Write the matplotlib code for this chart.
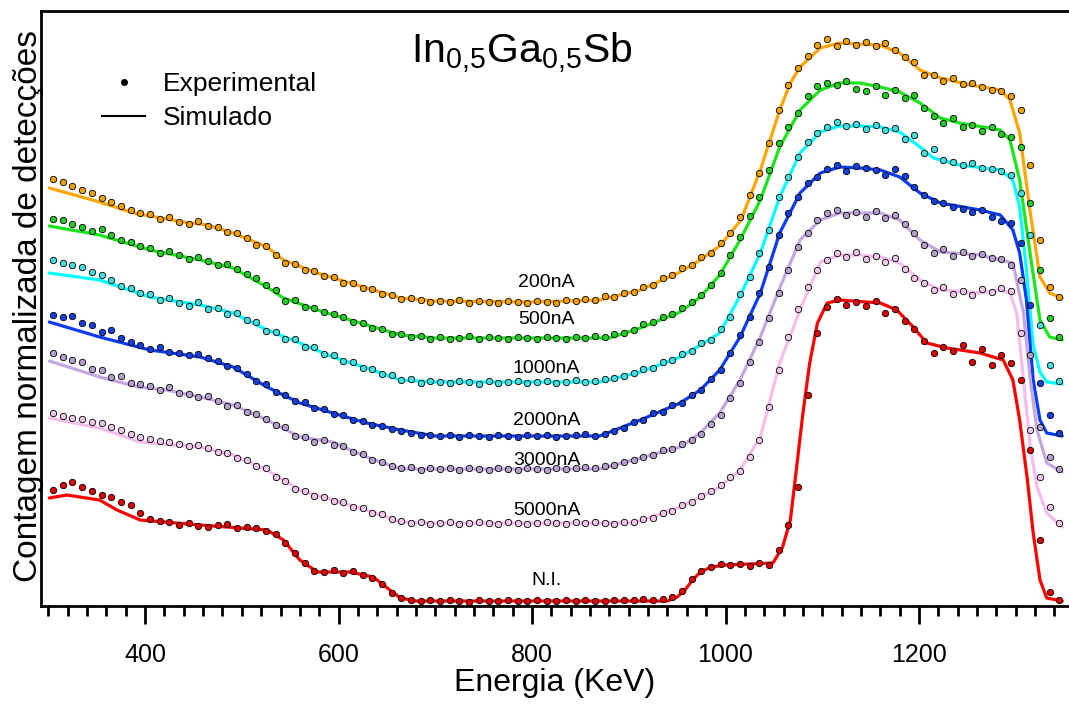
"""
RBS spectra of In0.5Ga0.5Sb at several fluences: experimental points and simulated curves.

Writes: out.png
"""

import numpy as np
import matplotlib
matplotlib.use("Agg")
import matplotlib.pyplot as plt
from matplotlib.lines import Line2D
from matplotlib.ticker import MultipleLocator

plt.rcParams["font.family"] = ["Liberation Sans", "DejaVu Sans"]
plt.rcParams["mathtext.fontset"] = "custom"
plt.rcParams["mathtext.rm"] = "Liberation Sans"
plt.rcParams["mathtext.it"] = "Liberation Sans:italic"

# ---------------------------------------------------------------- data
# curves are stacked, heights are normalised counts plus a vertical offset
labels = ["200nA", "500nA", "1000nA", "2000nA", "3000nA", "5000nA", "N.I."]

# experimental channels (keV)
exp_energy = np.arange(305, 1350, 10)

exp_200 = [
    426, 423, 419, 415, 412, 407, 403, 399, 395, 392,
    391, 386, 388, 383, 381, 384, 379, 378, 373, 372,
    367, 360, 359, 350, 342, 341, 335, 334, 329, 328,
    322, 322, 317, 316, 311, 310, 306, 307, 305, 303,
    304, 303, 305, 302, 304, 303, 302, 304, 303, 302,
    304, 303, 302, 305, 304, 306, 305, 309, 308, 312,
    313, 318, 320, 327, 330, 337, 340, 348, 352, 362,
    372, 388, 410, 432, 462, 495, 520, 537, 549, 560,
    566, 559, 564, 560, 563, 559, 562, 555, 548, 543,
    530, 530, 524, 527, 521, 522, 518, 515, 514, 509,
    495, 440, 365, 318, 308,
]
exp_500 = [
    386, 385, 381, 378, 374, 376, 370, 365, 363, 359,
    357, 352, 354, 350, 346, 348, 344, 340, 341, 336,
    331, 327, 320, 315, 304, 305, 298, 297, 293, 291,
    288, 283, 282, 277, 276, 271, 271, 268, 269, 266,
    268, 266, 267, 269, 266, 268, 267, 266, 268, 267,
    266, 268, 267, 266, 268, 267, 269, 268, 271, 272,
    275, 281, 283, 288, 291, 297, 303, 310, 320, 332,
    350, 368, 389, 408, 435, 462, 478, 492, 509, 519,
    522, 520, 524, 516, 514, 519, 510, 515, 507, 510,
    497, 489, 482, 487, 478, 480, 474, 478, 471, 468,
    458, 402, 335, 287, 268,
]
exp_1000 = [
    345, 342, 340, 338, 333, 330, 325, 319, 317, 312,
    311, 305, 307, 302, 299, 303, 296, 297, 291, 292,
    285, 283, 274, 273, 266, 266, 258, 258, 251, 250,
    244, 243, 237, 236, 231, 230, 225, 226, 222, 224,
    223, 222, 224, 223, 221, 224, 222, 223, 224, 222,
    223, 224, 222, 223, 225, 223, 224, 226, 227, 229,
    232, 236, 237, 243, 245, 251, 254, 262, 265, 276,
    288, 311, 328, 352, 375, 408, 428, 448, 463, 472,
    478, 483, 479, 481, 476, 480, 475, 477, 466, 470,
    452, 456, 445, 443, 440, 442, 437, 436, 434, 430,
    412, 370, 280, 240, 224,
]
exp_2000 = [
    290, 288, 289, 282, 280, 273, 275, 267, 263, 260,
    256, 258, 253, 252, 250, 251, 247, 244, 239, 237,
    231, 224, 221, 213, 210, 204, 203, 197, 196, 191,
    190, 185, 184, 180, 179, 176, 174, 172, 170, 170,
    169, 170, 168, 170, 169, 168, 170, 169, 168, 170,
    169, 170, 168, 169, 170, 171, 169, 171, 174, 177,
    183, 185, 192, 193, 200, 202, 210, 215, 226, 235,
    252, 270, 288, 312, 338, 370, 392, 408, 422, 428,
    436, 440, 434, 439, 437, 435, 430, 436, 429, 418,
    410, 404, 402, 398, 396, 393, 395, 388, 384, 382,
    362, 300, 222, 190, 172,
]
exp_3000 = [
    252, 248, 245, 243, 236, 235, 228, 229, 222, 221,
    219, 215, 218, 212, 211, 208, 209, 204, 199, 200,
    193, 191, 186, 180, 178, 169, 168, 163, 165, 160,
    159, 153, 151, 145, 143, 139, 137, 138, 135, 137,
    136, 137, 135, 137, 136, 135, 137, 136, 135, 137,
    136, 135, 137, 136, 137, 138, 137, 139, 140, 143,
    145, 148, 150, 155, 156, 161, 165, 171, 181, 190,
    207, 222, 243, 263, 287, 312, 335, 358, 372, 385,
    392, 395, 390, 393, 388, 394, 387, 390, 381, 372,
    360, 352, 356, 349, 353, 349, 351, 347, 346, 340,
    325, 250, 178, 148, 136,
]
exp_5000 = [
    192, 189, 187, 186, 183, 182, 178, 175, 171, 168,
    166, 164, 163, 161, 159, 160, 157, 153, 152, 147,
    145, 139, 137, 128, 124, 116, 114, 109, 108, 104,
    103, 98, 97, 92, 91, 86, 84, 82, 83, 81,
    82, 83, 81, 82, 83, 82, 81, 83, 82, 81,
    82, 83, 82, 81, 83, 82, 83, 82, 81, 83,
    83, 86, 87, 92, 94, 100, 103, 109, 114, 120,
    128, 134, 148, 165, 198, 235, 268, 296, 318, 335,
    345, 352, 348, 353, 346, 349, 343, 347, 336, 327,
    322, 315, 318, 311, 314, 310, 316, 313, 317, 314,
    272, 175, 128, 98, 82,
]
exp_ni = [
    115, 120, 123, 118, 114, 110, 108, 103, 100, 92,
    86, 84, 83, 80, 82, 79, 78, 80, 81, 77,
    78, 77, 74, 71, 62, 52, 42, 34, 33, 35,
    32, 34, 30, 27, 21, 12, 7, 5, 4, 5,
    4, 5, 4, 3, 5, 4, 4, 5, 4, 4,
    5, 4, 4, 5, 4, 5, 4, 4, 5, 5,
    5, 6, 5, 6, 8, 14, 26, 34, 38, 41,
    40, 41, 39, 42, 40, 55, 80, 118, 210, 272,
    298, 306, 300, 303, 299, 304, 292, 296, 284, 276,
    264, 252, 258, 254, 260, 243, 256, 240, 250, 242,
    225, 155, 65, 13, 5,
]

# simulated spectra (energy knots in keV, heights)
sim_200_e = [301, 353, 388, 439, 464, 491, 526, 543, 578, 612, 664, 700, 800, 870,
             912, 953, 974, 995, 1016, 1036, 1056, 1067, 1077, 1098, 1118, 1159,
             1180, 1201, 1222, 1253, 1284, 1294, 1304, 1315, 1325, 1335, 1348]
sim_200_h = [417, 403, 392, 383, 380, 372, 358, 345, 332, 322, 307, 304, 303, 305,
             315, 333, 345, 360, 385, 435, 495, 522, 538, 557, 562, 560,
             552, 535, 527, 520, 515, 505, 472, 392, 328, 312, 307]

sim_500_e = [301, 353, 405, 457, 491, 526, 543, 578, 612, 664, 700, 880, 912, 953,
             974, 994, 1015, 1036, 1056, 1077, 1098, 1118, 1139, 1160, 1180, 1201,
             1222, 1242, 1284, 1294, 1304, 1315, 1325, 1335, 1348]
sim_500_h = [379, 370, 355, 345, 337, 318, 307, 295, 285, 270, 267, 267, 277, 293,
             308, 330, 365, 405, 458, 495, 515, 522, 522, 518, 513, 502,
             487, 482, 475, 465, 425, 350, 285, 268, 265]

sim_1000_e = [301, 353, 405, 457, 491, 526, 560, 594, 629, 664, 700, 870, 912, 953,
              974, 994, 1015, 1036, 1056, 1077, 1098, 1118, 1139, 1160, 1180, 1201,
              1215, 1242, 1284, 1297, 1304, 1311, 1318, 1325, 1332, 1348]
sim_1000_h = [332, 325, 308, 300, 292, 275, 262, 248, 237, 225, 223, 223, 233, 248,
              260, 272, 309, 352, 408, 452, 473, 479, 479, 478, 473, 458,
              447, 440, 435, 425, 398, 335, 260, 233, 223, 221]

sim_2000_e = [301, 353, 405, 457, 491, 526, 560, 594, 629, 664, 700, 870, 912, 953,
              974, 994, 1015, 1036, 1056, 1077, 1098, 1118, 1139, 1160, 1180, 1201,
              1222, 1263, 1284, 1297, 1304, 1311, 1318, 1325, 1332, 1348]
sim_2000_h = [283, 268, 255, 248, 238, 218, 202, 192, 182, 175, 169, 169, 185, 202,
              215, 235, 268, 312, 372, 412, 432, 438, 437, 435, 428, 412,
              402, 395, 390, 375, 352, 305, 225, 185, 172, 169]

sim_3000_e = [301, 353, 393, 422, 457, 491, 526, 560, 594, 629, 664, 700, 870, 912,
              953, 974, 994, 1015, 1036, 1056, 1077, 1098, 1118, 1160, 1180, 1201,
              1222, 1263, 1297, 1308, 1315, 1322, 1332, 1348]
sim_3000_h = [244, 228, 218, 215, 208, 200, 185, 168, 163, 148, 136, 136, 136, 147,
              158, 172, 192, 225, 268, 317, 365, 385, 392, 392, 385, 365,
              353, 350, 342, 292, 225, 175, 142, 133]

sim_5000_e = [301, 353, 395, 457, 491, 526, 560, 594, 629, 664, 700, 905, 953, 974,
              994, 1015, 1036, 1056, 1077, 1090, 1098, 1118, 1139, 1160, 1180, 1201,
              1222, 1263, 1284, 1294, 1301, 1308, 1315, 1322, 1332, 1348]
sim_5000_h = [187, 177, 163, 158, 150, 135, 115, 105, 95, 83, 82, 82, 98, 108,
              118, 135, 168, 242, 295, 325, 343, 350, 350, 348, 342, 325,
              315, 312, 315, 312, 292, 225, 158, 118, 92, 78]

sim_ni_e = [301, 319, 353, 371, 395, 457, 526, 543, 560, 578, 612, 636, 653, 664,
            680, 940, 950, 958, 966, 974, 985, 1000, 1049, 1059, 1067, 1074, 1080,
            1087, 1095, 1105, 1118, 1160, 1177, 1194, 1208, 1229, 1263, 1287, 1297,
            1304, 1312, 1318, 1325, 1332, 1348]
sim_ni_h = [107, 110, 105, 95, 85, 80, 75, 65, 45, 33, 33, 28, 15, 7,
            4, 4, 8, 15, 25, 33, 38, 40, 42, 58, 85, 142, 192,
            242, 282, 302, 305, 302, 295, 278, 262, 257, 252, 245, 225,
            185, 125, 72, 25, 7, 4]

# ---------------------------------------------------------------- style
LINE_COLORS = ["#ffa500", "#19e619", "#00ffff", "#0a3cf5", "#c4a6e2", "#f6bdec", "#ff0000"]
DOT_COLORS  = ["#f0a000", "#22cc22", "#3fe0e0", "#1040e0", "#b4a0cc", "#efc6e8", "#e00000"]

# where each curve label sits (keV, height)
LABEL_X = 815
LABEL_Y = [322, 285, 236, 185, 145, 95, 25]


def main():
    exp_sets = [exp_200, exp_500, exp_1000, exp_2000, exp_3000, exp_5000, exp_ni]
    sim_sets = [(sim_200_e, sim_200_h), (sim_500_e, sim_500_h),
                (sim_1000_e, sim_1000_h), (sim_2000_e, sim_2000_h),
                (sim_3000_e, sim_3000_h), (sim_5000_e, sim_5000_h),
                (sim_ni_e, sim_ni_h)]

    fig = plt.figure(figsize=(10.69, 7.04), dpi=100)
    ax = fig.add_axes([0.0384, 0.1399, 0.9616, 0.8445])

    for i, (exp_h, (se, sh)) in enumerate(zip(exp_sets, sim_sets)):
        ax.plot(se, sh, color=LINE_COLORS[i], lw=2.3, zorder=2 + i * 0.1,
                solid_capstyle="round", solid_joinstyle="round")
        ax.plot(exp_energy, exp_h, ls="none", marker="o", ms=4.6,
                mfc=DOT_COLORS[i], mec="black", mew=0.6, zorder=3 + i * 0.1)
        ax.text(LABEL_X, LABEL_Y[i], labels[i], ha="center", va="center",
                fontsize=14, zorder=5)

    ax.set_xlim(292.5, 1355)
    ax.set_ylim(-0.5, 594)

    ax.xaxis.set_major_locator(MultipleLocator(200))
    ax.xaxis.set_minor_locator(MultipleLocator(20))
    ax.tick_params(axis="x", which="major", length=13, width=2, pad=14, labelsize=18)
    ax.tick_params(axis="x", which="minor", length=7, width=2)
    ax.set_yticks([])

    for side in ["left", "top", "bottom"]:
        ax.spines[side].set_linewidth(2)
    ax.spines["right"].set_visible(False)

    ax.set_xlabel("Energia (KeV)", fontsize=23, labelpad=1)
    fig.text(0.027, 0.565, "Contagem normalizada de detecções", rotation=90,
             ha="center", va="center", fontsize=24)

    ax.text(0.468, 0.929, r"In$_{\mathregular{0{,}5}}$Ga$_{\mathregular{0{,}5}}$Sb",
            transform=ax.transAxes, ha="center", va="center", fontsize=29.5)

    handles = [
        Line2D([], [], ls="none", marker="o", ms=4, color="black"),
        Line2D([], [], color="black", lw=1.5),
    ]
    ax.legend(handles, ["Experimental", "Simulado"], loc="upper left",
              bbox_to_anchor=(0.0595, 0.897), frameon=False, fontsize=19,
              handlelength=1.63, handletextpad=0.68, labelspacing=0.38,
              borderpad=0, borderaxespad=0)

    fig.savefig("out.png", dpi=100)
    plt.close(fig)


if __name__ == "__main__":
    main()
